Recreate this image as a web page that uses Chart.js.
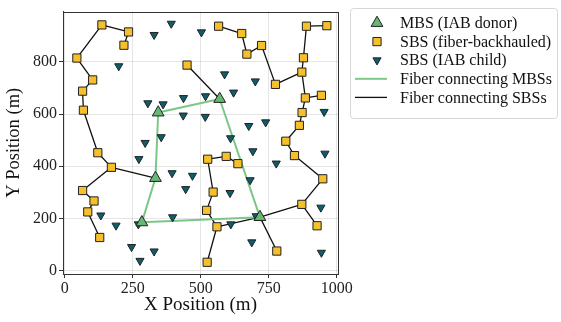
<!DOCTYPE html>
<html>
<head>
<meta charset="utf-8">
<title>Network layout</title>
<script src="https://cdn.jsdelivr.net/npm/chart.js@4.4.1/dist/chart.umd.min.js"></script>
<style>
  body { margin: 0; background: #fff; }
  canvas { display: block; }
</style>
</head>
<body>
<canvas id="layoutChart" width="561" height="322"></canvas>
<script>
// Node positions (m)
const mbsX = [344, 570, 334, 284, 718];
const mbsY = [606, 658, 355, 185, 205];

const fiberX = [137, 235, 218, 45, 103, 66, 69, 122, 172, 66, 108, 85, 129,
  450, 566, 651, 670, 724, 775, 889, 964, 878, 872, 885, 944, 873, 863, 813,
  845, 949, 872, 928, 780, 526, 594, 637, 546, 522, 560, 524];
const fiberY = [942, 915, 864, 815, 731, 688, 615, 452, 396, 307, 267, 225, 127,
  788, 937, 909, 830, 863, 714, 937, 939, 816, 761, 662, 672, 606, 557, 496,
  441, 352, 254, 172, 75, 427, 438, 410, 301, 231, 168, 32];

const childX = [329, 392, 503, 199, 306, 296, 588, 621, 437, 518, 362, 436, 517,
  355, 610, 677, 701, 954, 739, 273, 133, 189, 271, 246, 329, 277, 395, 470,
  445, 608, 397, 611, 692, 778, 957, 682, 942, 704, 688, 944];
const childY = [904, 947, 914, 784, 642, 490, 753, 683, 662, 669, 638, 595, 590,
  512, 508, 555, 726, 609, 569, 428, 212, 173, 178, 91, 74, 38, 374, 364,
  313, 298, 205, 178, 458, 411, 449, 347, 242, 209, 109, 69];

const xTicks = [0, 250, 500, 750, 1000];
const yTicks = [0, 200, 400, 600, 800];

// Fiber links, M = MBS, F = fiber-backhauled SBS
const mbsLinks = [["M0", "M1"], ["M1", "M4"], ["M4", "M3"], ["M3", "M2"], ["M2", "M0"]];
const sbsLinks = [
  ["F0", "F1"], ["F1", "F2"], ["F0", "F3"], ["F3", "F4"], ["F4", "F5"], ["F5", "F6"],
  ["F6", "F7"], ["F7", "F8"], ["F8", "M2"], ["F8", "F9"], ["F9", "F10"], ["F10", "F11"],
  ["F11", "F12"], ["F13", "M1"],
  ["F14", "F15"], ["F15", "F16"], ["F16", "F17"], ["F17", "F18"], ["F18", "F22"],
  ["F22", "F21"], ["F21", "F19"], ["F19", "F20"], ["F22", "F23"], ["F23", "F24"],
  ["F23", "F25"], ["F25", "F26"], ["F26", "F27"], ["F27", "F28"], ["F28", "F29"],
  ["F29", "F30"], ["F30", "F31"], ["F30", "M4"], ["M4", "F32"],
  ["F33", "F34"], ["F34", "F35"], ["F33", "F36"], ["F36", "F37"], ["F37", "F38"],
  ["F38", "M4"], ["F38", "F39"]
];

const FONT = "'Liberation Serif', 'Times New Roman', serif";

function node(id) {
  const i = Number(id.slice(1));
  return id[0] === "M" ? { x: mbsX[i], y: mbsY[i] } : { x: fiberX[i], y: fiberY[i] };
}

// each link becomes two points followed by a gap
function linkPoints(links) {
  const pts = [];
  links.forEach(([a, b]) => {
    pts.push(node(a), node(b), { x: null, y: null });
  });
  return pts;
}

function toPoints(xs, ys) {
  return xs.map((x, i) => ({ x, y: ys[i] }));
}

// Axes frame on all four sides
const frame = {
  id: "frame",
  afterDatasetsDraw(chart) {
    const { ctx, chartArea: a } = chart;
    ctx.save();
    ctx.strokeStyle = "#333";
    ctx.lineWidth = 1;
    ctx.strokeRect(Math.round(a.left) + 0.5, Math.round(a.top) + 0.5,
      Math.round(a.right - a.left), Math.round(a.bottom - a.top));
    ctx.restore();
  }
};

// Legend box to the right of the plot
const legendBox = {
  id: "legendBox",
  afterDraw(chart) {
    const ctx = chart.ctx;
    ctx.save();
    ctx.beginPath();
    ctx.roundRect(350.5, 8.5, 207, 110, 3);
    ctx.fillStyle = "#fff";
    ctx.fill();
    ctx.strokeStyle = "#d6d6d6";
    ctx.lineWidth = 1;
    ctx.stroke();

    ctx.font = "16px " + FONT;
    ctx.textBaseline = "middle";
    chart.data.datasets.forEach((ds, i) => {
      const y = 23 + i * 18.6;
      if (ds.showLine) {
        ctx.beginPath();
        ctx.moveTo(355, y);
        ctx.lineTo(387, y);
        ctx.strokeStyle = ds.borderColor;
        ctx.lineWidth = ds.borderWidth;
        ctx.stroke();
      } else {
        ctx.fillStyle = ds.pointBackgroundColor;
        ctx.strokeStyle = ds.pointBorderColor;
        ctx.lineWidth = ds.pointBorderWidth;
        Chart.helpers.drawPoint(ctx, {
          pointStyle: ds.pointStyle,
          radius: ds.pointRadius,
          rotation: ds.pointRotation || 0,
          borderWidth: ds.pointBorderWidth
        }, 377, y);
      }
      ctx.fillStyle = "#111";
      ctx.fillText(ds.label, 400, y + 1);
    });
    ctx.restore();
  }
};

const markerBase = { showLine: false, pointBorderColor: "#222", pointBorderWidth: 1, pointHoverRadius: 0 };
const lineBase = { showLine: true, pointRadius: 0, pointHoverRadius: 0, spanGaps: false };

new Chart(document.getElementById("layoutChart"), {
  type: "scatter",
  data: {
    datasets: [
      {
        ...markerBase,
        label: "MBS (IAB donor)",
        data: toPoints(mbsX, mbsY),
        pointStyle: "triangle",
        pointRadius: 6.8,
        pointBackgroundColor: "#66b872"
      },
      {
        ...markerBase,
        label: "SBS (fiber-backhauled)",
        data: toPoints(fiberX, fiberY),
        pointStyle: "rect",
        pointRadius: 5.8,
        pointBackgroundColor: "#f5c02c"
      },
      {
        ...markerBase,
        label: "SBS (IAB child)",
        data: toPoints(childX, childY),
        pointStyle: "triangle",
        pointRotation: 180,
        pointRadius: 4.7,
        pointBackgroundColor: "#0b5e6e"
      },
      {
        ...lineBase,
        label: "Fiber connecting MBSs",
        data: linkPoints(mbsLinks),
        borderColor: "#7cc688",
        borderWidth: 2
      },
      {
        ...lineBase,
        label: "Fiber connecting SBSs",
        data: linkPoints(sbsLinks),
        borderColor: "#111",
        borderWidth: 1.3
      }
    ]
  },
  options: {
    responsive: false,
    animation: false,
    devicePixelRatio: 1,
    layout: { padding: { top: 1, right: 223, left: 0, bottom: 0 } },
    plugins: {
      legend: { display: false },
      tooltip: { enabled: false }
    },
    scales: {
      x: {
        type: "linear",
        min: -6,
        max: 1005,
        afterBuildTicks: (scale) => { scale.ticks = xTicks.map((v) => ({ value: v })); },
        afterFit: (scale) => { scale.height = 48; },
        ticks: {
          color: "#222",
          font: { family: FONT, size: 16 },
          padding: 1,
          maxRotation: 0,
          callback: (v) => String(v)
        },
        grid: { color: "rgba(0,0,0,0.1)", tickColor: "#333", tickLength: 4 },
        border: { color: "#333" },
        title: {
          display: true,
          text: "X Position (m)",
          color: "#111",
          font: { family: FONT, size: 19 },
          padding: { top: 0, bottom: 6 }
        }
      },
      y: {
        type: "linear",
        min: -13,
        max: 993,
        afterBuildTicks: (scale) => { scale.ticks = yTicks.map((v) => ({ value: v })); },
        afterFit: (scale) => { scale.width = 63; },
        ticks: {
          color: "#222",
          font: { family: FONT, size: 16 },
          padding: 2,
          callback: (v) => String(v)
        },
        grid: { color: "rgba(0,0,0,0.1)", tickColor: "#333", tickLength: 4 },
        border: { color: "#333" },
        title: {
          display: true,
          text: "Y Position (m)",
          color: "#111",
          font: { family: FONT, size: 18.5 },
          padding: { top: 3, bottom: 0 }
        }
      }
    }
  },
  plugins: [frame, legendBox]
});
</script>
</body>
</html>
